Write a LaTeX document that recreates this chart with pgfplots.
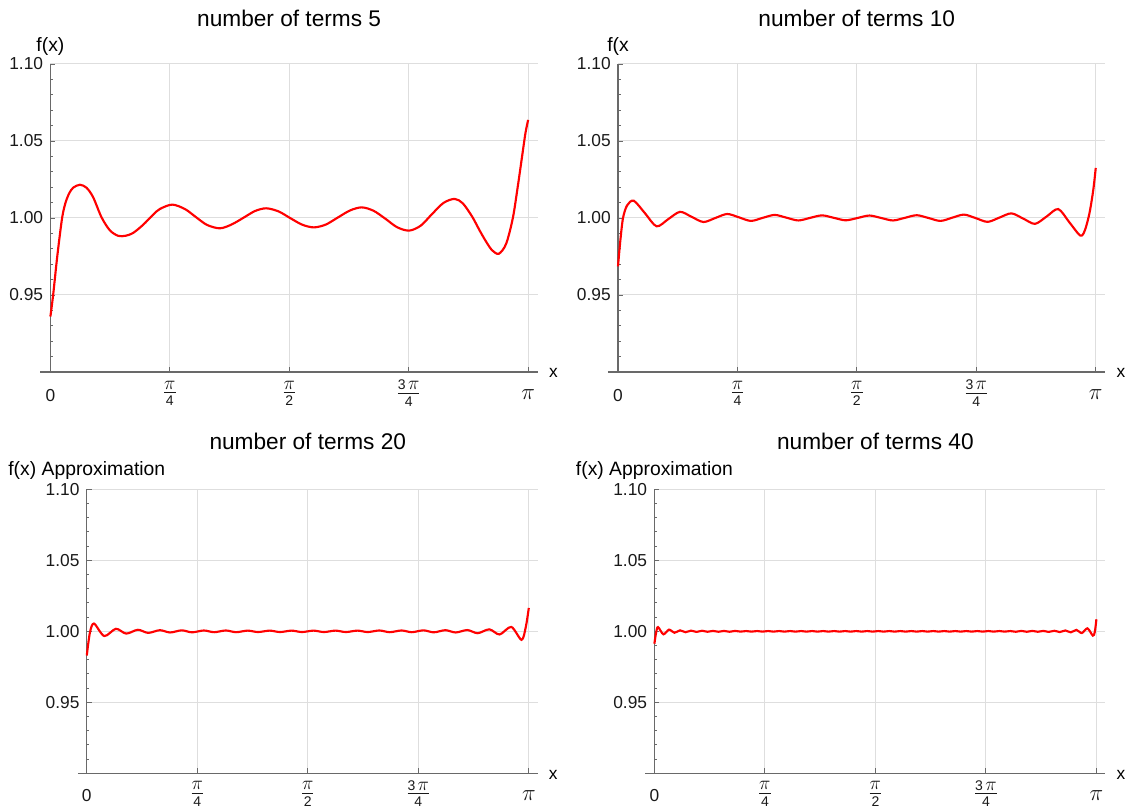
\documentclass[border=0pt]{standalone}
\usepackage{fontspec}
\setmainfont{Liberation Sans}
\usepackage{pgfplots}
\pgfplotsset{compat=1.18}
\definecolor{axgray}{RGB}{105,105,105}
\definecolor{gridgray}{RGB}{222,222,222}
\definecolor{lblgray}{RGB}{25,25,25}
\definecolor{curvered}{RGB}{255,0,0}
\newcommand{\spi}{\mbox{\fontsize{15}{15}\selectfont$\pi$}}
\newcommand{\fr}[2]{{\fontsize{10.5}{10.5}\selectfont$\frac{\raisebox{0.8pt}{#1}}{\raisebox{-3.5pt}{\mbox{#2}}}$}}
\newcommand{\lbl}[1]{{\fontsize{13}{13}\selectfont\rule{0pt}{11.9pt}#1}}
\newcommand{\lpi}{{\fontsize{17}{17}\selectfont\rule{0pt}{9.9pt}$\pi$}}
\pgfplotsset{
  fpanel/.style={
    scale only axis,
    anchor=south west,
    xmin=0, ymin=0.9, ymax=1.1,
    clip=false,
    axis x line*=bottom,
    axis y line*=left,
    axis line style={draw=axgray, line width=0.9pt},
    tick style={draw=axgray, line width=0.7pt},
    major tick length=3.75pt,
    minor tick length=2pt,
    xtick={0,0.785398,1.570796,2.356194,3.141593},
    xticklabels={\lbl{0},\fr{\spi}{4},\fr{\spi}{2},\fr{\mbox{3}\,\spi}{4},\lpi},
    ytick={0.95,1,1.05,1.1},
    yticklabels={0.95,1.00,1.05,1.10},
    minor ytick={0.91,0.92,0.93,0.94,0.96,0.97,0.98,0.99,1.01,1.02,1.03,1.04,1.06,1.07,1.08,1.09},
    xmajorgrids, ymajorgrids,
    major grid style={draw=gridgray, line width=0.75pt},
    yticklabel style={font=\fontsize{13}{13}\selectfont, text=lblgray, inner sep=0pt, xshift=-5.3pt},
    xticklabel style={anchor=center, yshift=-16pt, inner sep=0pt, text=lblgray},
    every axis title/.style={at={(0.5,1)}, anchor=center, font=\fontsize{17}{20}\selectfont},
    every axis y label/.style={at={(0,1)}, anchor=center, font=\fontsize{14.5}{17}\selectfont},
    every axis x label/.style={at={(1,0)}, anchor=center, font=\fontsize{13}{15}\selectfont, xshift=11.6pt, yshift=-1pt},
    xlabel={x},
  },
  curve/.style={curvered, line width=1.6pt, smooth, no markers},
}
\begin{document}
\begin{tikzpicture}
\useasboundingbox (0,0) rectangle (843.75pt,606pt);
% ---------- panel 1 ----------
\begin{axis}[fpanel, at={(37.8pt,327pt)}, width=365.6pt, height=231pt, xmax=3.2055,
  title={number of terms 5}, title style={xshift=-3.75pt, yshift=34.3pt},
  ylabel={f(x)}, ylabel style={yshift=12.75pt}]
\draw[axgray, line width=0.9pt] (axis cs:-0.0658,0.9) -- (axis cs:0,0.9);
\addplot[curve] coordinates {
(0,0.936) (0.018,0.950) (0.045,0.975) (0.074,0.998) (0.09,1.0065) (0.106,1.0119)
(0.125,1.0163) (0.15,1.0197) (0.194,1.0216) (0.238,1.0196) (0.281,1.0135) (0.336,1.0005)
(0.391,0.9920) (0.446,0.9884) (0.496,0.9885) (0.544,0.9903) (0.610,0.9956) (0.675,1.0021)
(0.719,1.0058) (0.801,1.0087) (0.885,1.0058) (0.958,1.0005) (1.03,0.9955) (1.114,0.9933)
(1.19,0.9957) (1.267,1.0000) (1.345,1.0045) (1.419,1.0063) (1.50,1.0043) (1.576,1.0000)
(1.655,0.9957) (1.732,0.9939) (1.81,0.9957) (1.890,1.0003) (1.97,1.0049) (2.047,1.0069)
(2.125,1.0047) (2.203,0.9995) (2.28,0.9940) (2.359,0.9918) (2.435,0.9950) (2.509,1.0025)
(2.585,1.0098) (2.658,1.0124) (2.712,1.0095) (2.774,1.0008) (2.822,0.9920) (2.866,0.9845)
(2.905,0.9790) (2.949,0.9768) (2.997,0.9833) (3.041,1.0000) (3.073,1.0202) (3.102,1.0402)
(3.124,1.0552) (3.1416,1.0637)
};
\end{axis}
% ---------- panel 2 ----------
\begin{axis}[fpanel, at={(463.5pt,327pt)}, width=365.6pt, height=231pt, xmax=3.2055,
  title={number of terms 10}, title style={xshift=-3.75pt, yshift=34.3pt},
  ylabel={f(x}, ylabel style={yshift=12.75pt}]
\draw[axgray, line width=0.9pt] (axis cs:-0.0658,0.9) -- (axis cs:0,0.9);
\addplot[curve] coordinates {
(0,0.9686) (0.015,0.985) (0.033,1.000) (0.06,1.0082) (0.104,1.0112) (0.179,1.0029)
(0.254,0.9946) (0.331,0.9993) (0.408,1.0040) (0.485,1.0007) (0.562,0.9974) (0.640,1.0000)
(0.718,1.0026) (0.796,1.0004) (0.874,0.9981) (0.952,1.0001) (1.030,1.0020) (1.108,1.0002)
(1.186,0.9984) (1.264,1.0001) (1.342,1.0017) (1.420,1.0001) (1.497,0.9985) (1.575,1.0000)
(1.653,1.0016) (1.731,1.0000) (1.808,0.9984) (1.886,1.0001) (1.964,1.0018) (2.042,1.0000)
(2.120,0.9981) (2.198,1.0002) (2.275,1.0022) (2.353,0.9999) (2.431,0.9975) (2.509,1.0003)
(2.587,1.0030) (2.665,0.9996) (2.742,0.9962) (2.819,1.0010) (2.895,1.0058) (2.968,0.9972)
(3.040,0.9886) (3.070,0.9920) (3.100,1.0030) (3.125,1.0180) (3.1416,1.0325)
};
\end{axis}
% ---------- panel 3 ----------
\begin{axis}[fpanel, at={(65.1pt,26pt)}, width=338.25pt, height=213pt, xmax=3.2055,
  title={number of terms 20}, title style={xshift=-3.4pt, yshift=35.7pt},
  ylabel={f(x) Approximation}, ylabel style={yshift=14.5pt},
  xticklabel style={yshift=0.7pt}]
\draw[axgray, line width=0.9pt] (axis cs:-0.064,0.9) -- (axis cs:0,0.9);
\addplot[curve] coordinates {
(0,0.983) (0.022,0.999) (0.051,1.0055) (0.124,0.9967) (0.207,1.0018) (0.280,0.9984)
(0.363,1.0011) (0.436,0.9989) (0.519,1.0008) (0.592,0.9992) (0.675,1.0007) (0.748,0.9993)
(0.832,1.0006) (0.905,0.9994) (0.988,1.0006) (1.061,0.9994) (1.144,1.0005) (1.217,0.9995)
(1.300,1.0005) (1.373,0.9995) (1.456,1.0005) (1.529,0.9995) (1.612,1.0005) (1.685,0.9995)
(1.768,1.0005) (1.841,0.9995) (1.924,1.0005) (1.997,0.9995) (2.080,1.0006) (2.153,0.9994)
(2.237,1.0006) (2.310,0.9994) (2.393,1.0007) (2.466,0.9993) (2.549,1.0008) (2.622,0.9992)
(2.705,1.0009) (2.778,0.9987) (2.861,1.0014) (2.934,0.9978) (3.017,1.0031) (3.090,0.9940)
(3.120,1.0030) (3.1416,1.0165)
};
\end{axis}
% ---------- panel 4 ----------
\begin{axis}[fpanel, at={(490.8pt,26pt)}, width=338.25pt, height=213pt, xmax=3.2055,
  title={number of terms 40}, title style={xshift=-3.4pt, yshift=35.7pt},
  ylabel={f(x) Approximation}, ylabel style={yshift=14.5pt},
  xticklabel style={yshift=0.7pt}]
\draw[axgray, line width=0.9pt] (axis cs:-0.064,0.9) -- (axis cs:0,0.9);
\addplot[curve] coordinates {
(0,0.9913) (0.012,0.9990)
(0.0256,1.0030) (0.0640,0.9979) (0.1039,1.0012) (0.1423,0.9990) (0.1821,1.0007) (0.2205,0.9994)
(0.2604,1.0005) (0.2988,0.9996) (0.3386,1.0004) (0.3770,0.9997) (0.4169,1.0003) (0.4553,0.9997)
(0.4952,1.0003) (0.5336,0.9997) (0.5734,1.0003) (0.6118,0.9998) (0.6517,1.0002) (0.6901,0.9998)
(0.7299,1.0002) (0.7683,0.9998) (0.8082,1.0002) (0.8466,0.9998) (0.8865,1.0002) (0.9249,0.9998)
(0.9647,1.0002) (1.0031,0.9998) (1.0430,1.0002) (1.0814,0.9998) (1.1212,1.0002) (1.1596,0.9998)
(1.1995,1.0002) (1.2379,0.9998) (1.2778,1.0002) (1.3162,0.9998) (1.3560,1.0002) (1.3944,0.9998)
(1.4343,1.0002) (1.4727,0.9998) (1.5125,1.0002) (1.5509,0.9998) (1.5908,1.0002) (1.6292,0.9998)
(1.6691,1.0002) (1.7075,0.9998) (1.7473,1.0002) (1.7857,0.9998) (1.8256,1.0002) (1.8640,0.9998)
(1.9038,1.0002) (1.9422,0.9998) (1.9821,1.0002) (2.0205,0.9998) (2.0604,1.0002) (2.0988,0.9998)
(2.1386,1.0002) (2.1770,0.9998) (2.2169,1.0002) (2.2553,0.9998) (2.2951,1.0002) (2.3335,0.9998)
(2.3734,1.0002) (2.4118,0.9998) (2.4517,1.0002) (2.4901,0.9998) (2.5299,1.0002) (2.5683,0.9997)
(2.6082,1.0003) (2.6466,0.9997) (2.6864,1.0003) (2.7248,0.9997) (2.7647,1.0003) (2.8031,0.9996)
(2.8430,1.0004) (2.8814,0.9995) (2.9212,1.0006) (2.9596,0.9993) (2.9995,1.0010) (3.0379,0.9988)
(3.0777,1.0021) (3.1161,0.9970) (3.1300,0.9995) (3.1416,1.0085)
};
\end{axis}
\end{tikzpicture}
\end{document}
